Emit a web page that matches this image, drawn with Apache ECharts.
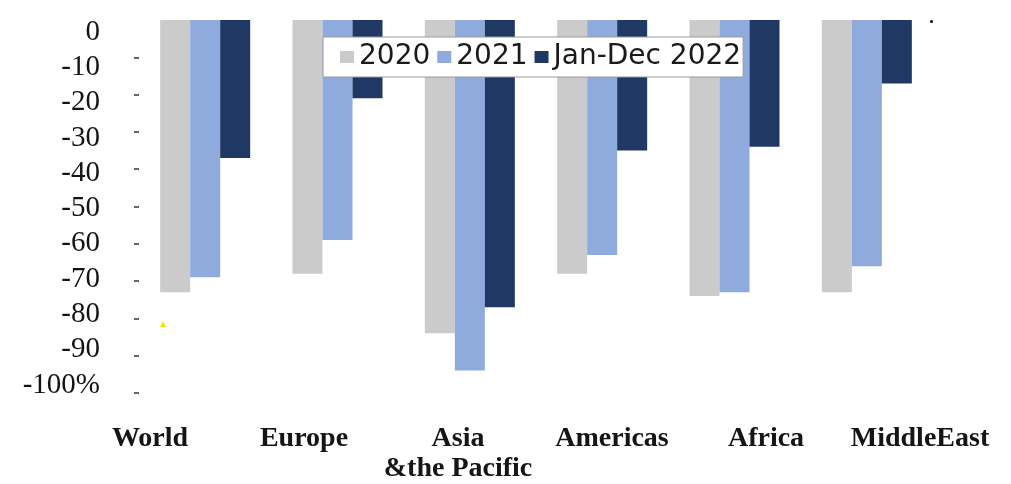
<!DOCTYPE html>
<html>
<head>
<meta charset="utf-8">
<script src="https://cdn.jsdelivr.net/npm/echarts@6/dist/echarts.min.js"></script>
<style>
html,body{margin:0;padding:0;background:#fff;}
#c{width:1011px;height:484px;}
</style>
</head>
<body>
<div id="c"></div>
<script>
const categories = ['World', 'Europe', 'Asia\n&the Pacific', 'Americas', 'Africa', 'MiddleEast'];
const seriesNames = ['2020', '2021', 'Jan-Dec 2022'];
const values2020 = [-73, -68, -84, -68, -74, -73];
const values2021 = [-69, -59, -94, -63, -73, -66];
const values2022 = [-37, -21, -77, -35, -34, -17];
const yTicks = [-10, -20, -30, -40, -50, -60, -70, -80, -90, -100];

const colors = ['#cccbcb', '#8faadc', '#203864'];
const chart = echarts.init(document.getElementById('c'), null, {renderer: 'canvas'});

chart.setOption({
  animation: false,
  backgroundColor: '#ffffff',
  grid: [
    {left: 139, right: 78, top: 20, bottom: 91},
    {left: 73, right: 14, top: 20, bottom: 91},
    {left: 139, right: 78, top: 32, bottom: 99}
  ],
  legend: {
    data: seriesNames,
    left: 323, top: 37,
    orient: 'horizontal',
    backgroundColor: '#ffffff',
    borderColor: '#9a9a9a',
    borderWidth: 1,
    padding: [4, 2, 4, 17],
    itemWidth: 14, itemHeight: 12, itemGap: 7,
    icon: 'rect',
    textStyle: {fontFamily: 'DejaVu Sans', fontSize: 28, color: '#1a1a1a', lineHeight: 32}
  },
  xAxis: [
    {type: 'category', gridIndex: 0, data: categories, axisLine: {show: false}, axisTick: {show: false}, axisLabel: {show: false}},
    {type: 'category', gridIndex: 1, data: categories, axisLine: {show: false}, axisTick: {show: false},
      axisLabel: {show: true, margin: 40, interval: 0, fontFamily: 'Liberation Serif', fontWeight: 'bold', fontSize: 28, lineHeight: 30, color: '#151515'}},
    {type: 'category', gridIndex: 2, data: categories, show: false}
  ],
  yAxis: [
    {type: 'value', gridIndex: 0, min: -100, max: 0, interval: 10,
      axisLine: {show: false}, splitLine: {show: false}, axisLabel: {show: false},
      axisTick: {show: true, length: 5, customValues: yTicks, lineStyle: {color: '#333333', width: 1.5}}},
    {type: 'value', gridIndex: 1, min: -100, max: 0, show: false},
    {type: 'value', gridIndex: 2, min: -100, max: 0, interval: 10,
      axisLine: {show: false}, splitLine: {show: false}, axisTick: {show: false},
      axisLabel: {show: true, margin: 39, fontFamily: 'Liberation Serif', fontSize: 29, color: '#141414',
        formatter: function (v) { return v === -100 ? '-100%' : String(v); }}}
  ],
  series: [
    {name: seriesNames[0], type: 'bar', xAxisIndex: 0, yAxisIndex: 0, data: values2020, barWidth: 30, barGap: '0%', itemStyle: {color: colors[0]}},
    {name: seriesNames[1], type: 'bar', xAxisIndex: 0, yAxisIndex: 0, data: values2021, barWidth: 30, barGap: '0%', itemStyle: {color: colors[1]}},
    {name: seriesNames[2], type: 'bar', xAxisIndex: 0, yAxisIndex: 0, data: values2022, barWidth: 30, barGap: '0%', itemStyle: {color: colors[2]}}
  ],
  graphic: [
    {type: 'circle', left: 930, top: 20, shape: {r: 1.5}, style: {fill: '#000'}},
    {type: 'polygon', shape: {points: [[160, 327], [166, 327], [163, 321]]}, style: {fill: '#f2e600'}}
  ]
});
</script>
</body>
</html>
